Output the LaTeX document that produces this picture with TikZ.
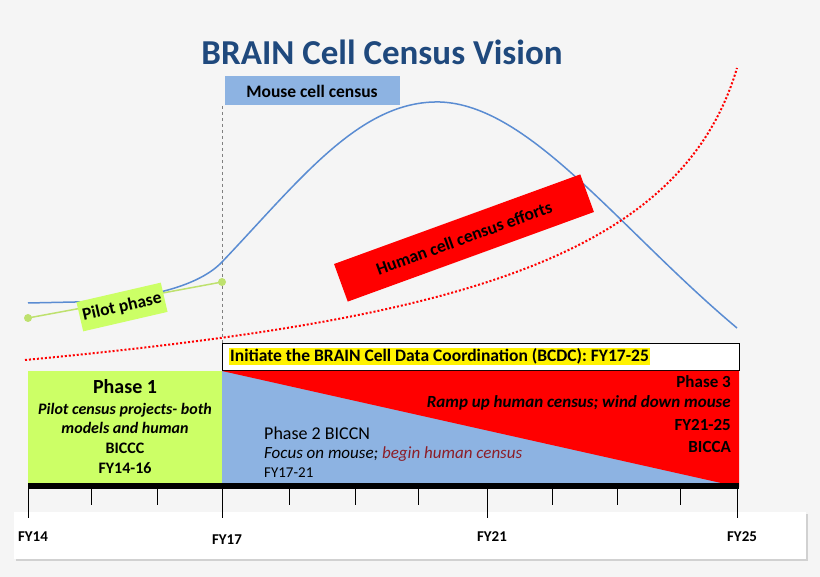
\documentclass[tikz,border=0pt]{standalone}
\usepackage{fontspec}
\setmainfont{Carlito}
\usetikzlibrary{positioning, shadows}
\definecolor{bggray}{RGB}{245,245,245}
\definecolor{titleblue}{RGB}{31,73,125}
\definecolor{mouseblue}{RGB}{141,179,226}
\definecolor{curveblue}{RGB}{90,140,210}
\definecolor{pilotgreen}{RGB}{204,255,102}
\definecolor{dotgreen}{RGB}{190,225,110}
\definecolor{humanred}{RGB}{255,0,0}
\definecolor{darkred}{RGB}{140,30,40}

\newcommand{\sz}[1]{\fontsize{#1}{#1}\selectfont}

\begin{document}
\begin{tikzpicture}[x=1pt, y=-1pt]
	\tikzstyle{label} = [font=\bfseries\sz{17.5}, inner sep=3pt]
	\tikzstyle{body} = [inner sep=0pt]
	\tikzstyle{tick} = [thick]
	\tikzstyle{yearlabel} = [font=\bfseries\sz{15}]

	\fill [bggray] (0,0) rectangle (820,577);
	\useasboundingbox (0,0) rectangle (820,577);

	\node (title) [font=\bfseries\sz{35}, text=titleblue] at (382,52) {BRAIN Cell Census Vision};
	\node (mouse) [label, fill=mouseblue, minimum width=175pt, minimum height=29pt] at (312,91) {Mouse cell census};

	\draw [gray, dashed] (222,106) -- (222,343);

	% curves
	\draw [curveblue, line width=1.5pt] (28,303) -- (75,302) .. controls (150,300) and (200,285) .. (222,262)
		.. controls (300,180) and (360,100) .. (440,102) .. controls (530,105) and (620,230) .. (737,328);
	\draw [humanred, dotted, line width=2pt] (25,360) .. controls (450,320) and (680,260) .. (737,68);

	% pilot phase
	\coordinate (p1) at (28,318);
	\coordinate (p2) at (222,282);
	\draw [dotgreen, line width=1.5pt] (p1) -- (p2);
	\fill [dotgreen] (p1) circle (4pt) (p2) circle (4pt);
	\node (pilot) [label, fill=pilotgreen, rotate=13, minimum height=30pt] at (122,307) {Pilot phase};
	\node (human) [label, fill=humanred, rotate=20, minimum width=262pt, minimum height=40pt] at (464,238) {Human cell census efforts};

	% phases
	\node (bcdc) [draw, fill=white, minimum width=517pt, minimum height=27pt, anchor=north west, inner sep=0pt] at (222,343) {};
	\node [label, fill=yellow, anchor=west, inner sep=1pt] at (229,356.5) {Initiate the BRAIN Cell Data Coordination (BCDC): FY17-25};
	\fill [pilotgreen] (28,371) rectangle (222,484);
	\fill [mouseblue] (222,371) rectangle (739,484);
	\fill [humanred] (222,371) -- (739,371) -- (739,487) -- cycle;
	\node (ph1) [font=\bfseries\sz{20}] at (125,387) {Phase 1};
	\node [body, align=center, font=\bfseries\itshape\sz{16}] at (125,418) {Pilot census projects- both\\[3pt] models and human};
	\node [body, align=center, font=\bfseries\sz{16}] at (125,458) {BICCC\\[4pt] FY14-16};
	\node (ph2) [body, anchor=west, font=\sz{18}] at (264,433) {Phase 2 BICCN};
	\node [body, anchor=west, font=\itshape\sz{17}] at (264,454) {Focus on mouse; \textcolor{darkred}{begin human census}};
	\node [body, anchor=west, font=\sz{15}] at (264,473) {FY17-21};
	\node (ph3) [body, anchor=east, font=\bfseries\sz{17}] at (731,382) {Phase 3};
	\node [body, anchor=east, font=\bfseries\itshape\sz{17}] at (731,403) {Ramp up human census; wind down mouse};
	\node [body, anchor=east, align=right, font=\bfseries\sz{17}] at (731,436) {FY21-25\\[5pt] BICCA};

	% axis
	\fill [white, drop shadow={opacity=0.3}] (14,512) rectangle (806,559);
	\fill [black] (28,483) rectangle (739,489);
	\foreach \x in {91,157,289,355,418,552,617,680}
		\draw [tick] (\x,489) -- (\x,505);
	\foreach \x/\yr/\ylab in {28/FY14/537, 222/FY17/540, 487/FY21/537, 737/FY25/537} {
		\draw [tick] (\x,489) -- (\x,518);
		\node [yearlabel] at (\x+5,\ylab) {\yr};
	}
\end{tikzpicture}
\end{document}
